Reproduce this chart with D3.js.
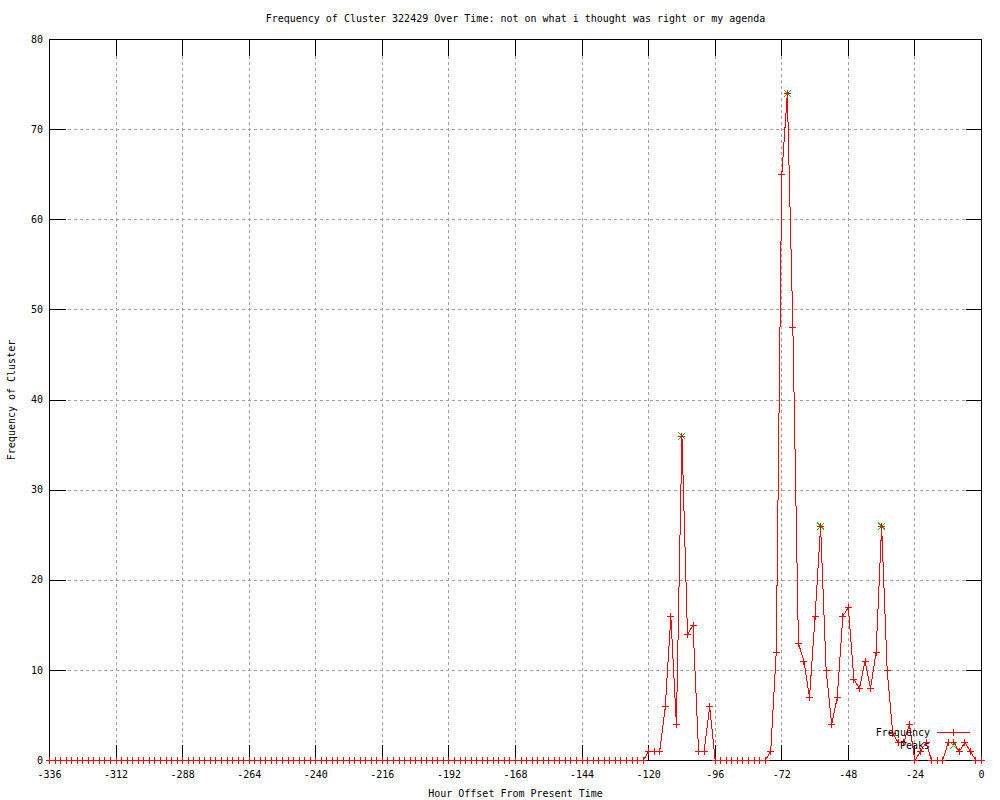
<!DOCTYPE html>
<html>
<head>
<meta charset="utf-8">
<script src="https://cdn.jsdelivr.net/npm/d3@7"></script>
<style>
  body { margin: 0; background: #ffffff; }
  text { font-family: "DejaVu Sans Mono", "Liberation Mono", monospace; font-size: 10px; fill: #000; }
</style>
</head>
<body>
<div id="chart"></div>
<script>
// Your data (one line = one day, a point every 2 hours)
var hours = [
  -336, -334, -332, -330, -328, -326, -324, -322, -320, -318, -316, -314,
  -312, -310, -308, -306, -304, -302, -300, -298, -296, -294, -292, -290,
  -288, -286, -284, -282, -280, -278, -276, -274, -272, -270, -268, -266,
  -264, -262, -260, -258, -256, -254, -252, -250, -248, -246, -244, -242,
  -240, -238, -236, -234, -232, -230, -228, -226, -224, -222, -220, -218,
  -216, -214, -212, -210, -208, -206, -204, -202, -200, -198, -196, -194,
  -192, -190, -188, -186, -184, -182, -180, -178, -176, -174, -172, -170,
  -168, -166, -164, -162, -160, -158, -156, -154, -152, -150, -148, -146,
  -144, -142, -140, -138, -136, -134, -132, -130, -128, -126, -124, -122,
  -120, -118, -116, -114, -112, -110, -108, -106, -104, -102, -100, -98,
  -96, -94, -92, -90, -88, -86, -84, -82, -80, -78, -76, -74,
  -72, -70, -68, -66, -64, -62, -60, -58, -56, -54, -52, -50,
  -48, -46, -44, -42, -40, -38, -36, -34, -32, -30, -28, -26,
  -24, -22, -20, -18, -16, -14, -12, -10, -8, -6, -4, -2,
  0
];
var frequency = [
  0, 0, 0, 0, 0, 0, 0, 0, 0, 0, 0, 0,
  0, 0, 0, 0, 0, 0, 0, 0, 0, 0, 0, 0,
  0, 0, 0, 0, 0, 0, 0, 0, 0, 0, 0, 0,
  0, 0, 0, 0, 0, 0, 0, 0, 0, 0, 0, 0,
  0, 0, 0, 0, 0, 0, 0, 0, 0, 0, 0, 0,
  0, 0, 0, 0, 0, 0, 0, 0, 0, 0, 0, 0,
  0, 0, 0, 0, 0, 0, 0, 0, 0, 0, 0, 0,
  0, 0, 0, 0, 0, 0, 0, 0, 0, 0, 0, 0,
  0, 0, 0, 0, 0, 0, 0, 0, 0, 0, 0, 0,
  1, 1, 1, 6, 16, 4, 36, 14, 15, 1, 1, 6,
  0, 0, 0, 0, 0, 0, 0, 0, 0, 0, 1, 12,
  65, 74, 48, 13, 11, 7, 16, 26, 10, 4, 7, 16,
  17, 9, 8, 11, 8, 12, 26, 10, 3, 2, 2, 4,
  0, 1, 2, 0, 0, 0, 2, 2, 1, 2, 1, 0,
  0
];
var peakHours = [-108, -70, -58, -36];
var peakValues = [36, 74, 26, 26];

var xTicks = [-336, -312, -288, -264, -240, -216, -192, -168, -144, -120, -96, -72, -48, -24, 0];
var yTicks = [0, 10, 20, 30, 40, 50, 60, 70, 80];

// Define the dimensions of the chart
var width = 1000;
var height = 800;
var plotLeft = 49.5, plotRight = 981.5, plotTop = 39.5, plotBottom = 760.5;
var tickLen = 16;

var svg = d3.select("#chart").append("svg")
    .attr("width", width)
    .attr("height", height)
    .style("background", "#ffffff");

var x = d3.scaleLinear().domain([-336, 0]).range([plotLeft, plotRight]);
var y = d3.scaleLinear().domain([0, 80]).range([plotBottom, plotTop]);

// dotted grid
svg.append("g")
    .attr("transform", "translate(0," + plotBottom + ")")
    .call(d3.axisBottom(x).tickValues(xTicks.slice(1, -1)).tickSize(-(plotBottom - plotTop)).tickFormat("").offset(0))
    .call(function(g) { g.select(".domain").remove(); })
    .selectAll("line")
    .attr("stroke", "#a0a0a0")
    .attr("stroke-dasharray", "3,3")
    .attr("shape-rendering", "crispEdges");

svg.append("g")
    .attr("transform", "translate(" + plotLeft + ",0)")
    .call(d3.axisLeft(y).tickValues(yTicks.slice(1, -1)).tickSize(-(plotRight - plotLeft)).tickFormat("").offset(0))
    .call(function(g) { g.select(".domain").remove(); })
    .selectAll("line")
    .attr("stroke", "#a0a0a0")
    .attr("stroke-dasharray", "3,3")
    .attr("shape-rendering", "crispEdges");

// ticks pointing inward on all four sides
var bottomAxis = svg.append("g")
    .attr("transform", "translate(0," + plotBottom + ")")
    .call(d3.axisBottom(x).tickValues(xTicks).tickSizeInner(-tickLen).tickSizeOuter(0).tickFormat(function(d) { return String(d); }).offset(0));
bottomAxis.selectAll("text").attr("y", 17.5).attr("dy", null);

var topAxis = svg.append("g")
    .attr("transform", "translate(0," + plotTop + ")")
    .call(d3.axisTop(x).tickValues(xTicks).tickSizeInner(-tickLen).tickSizeOuter(0).tickFormat("").offset(0));

var leftAxis = svg.append("g")
    .attr("transform", "translate(" + plotLeft + ",0)")
    .call(d3.axisLeft(y).tickValues(yTicks).tickSizeInner(-tickLen).tickSizeOuter(0).tickPadding(6.5).tickFormat(function(d) { return String(d); }).offset(0));

var rightAxis = svg.append("g")
    .attr("transform", "translate(" + plotRight + ",0)")
    .call(d3.axisRight(y).tickValues(yTicks).tickSizeInner(-tickLen).tickSizeOuter(0).tickFormat("").offset(0));

[bottomAxis, topAxis, leftAxis, rightAxis].forEach(function(g) {
    g.select(".domain").remove();
    g.attr("font-family", null).attr("font-size", null);
    g.selectAll("line").attr("stroke", "#000").attr("shape-rendering", "crispEdges");
    g.selectAll("text").attr("fill", "#000");
});

// plot frame
svg.append("rect")
    .attr("x", plotLeft).attr("y", plotTop)
    .attr("width", plotRight - plotLeft).attr("height", plotBottom - plotTop)
    .attr("fill", "none")
    .attr("stroke", "#000")
    .attr("shape-rendering", "crispEdges");

var plus = "M-3.5,0H3.5M0,-3.5V3.5";
var cross = "M-3.5,-3.5L3.5,3.5M-3.5,3.5L3.5,-3.5";

// Peaks (green x, under the red points)
svg.append("g").selectAll("path")
    .data(peakValues)
    .enter().append("path")
    .attr("transform", function(d, i) { return "translate(" + x(peakHours[i]) + "," + y(d) + ")"; })
    .attr("d", cross)
    .attr("stroke", "#00c000")
    .attr("shape-rendering", "crispEdges");

// Frequency line
var line = d3.line()
    .x(function(d, i) { return x(hours[i]); })
    .y(function(d) { return y(d); });

svg.append("path")
    .datum(frequency)
    .attr("d", line)
    .attr("fill", "none")
    .attr("stroke", "#ff0000")
    .attr("stroke-width", 1)
    .attr("shape-rendering", "crispEdges");

svg.append("g").selectAll("path")
    .data(frequency)
    .enter().append("path")
    .attr("transform", function(d, i) { return "translate(" + x(hours[i]) + "," + y(d) + ")"; })
    .attr("d", plus)
    .attr("stroke", "#ff0000")
    .attr("shape-rendering", "crispEdges");

// legend
var key = svg.append("g");
key.append("text").attr("x", 930).attr("y", 735.5).attr("text-anchor", "end").text("Frequency");
key.append("line").attr("x1", 937).attr("x2", 970).attr("y1", 732.5).attr("y2", 732.5)
    .attr("stroke", "#ff0000").attr("shape-rendering", "crispEdges");
key.append("path").attr("transform", "translate(953.5,732.5)").attr("d", plus)
    .attr("stroke", "#ff0000").attr("shape-rendering", "crispEdges");
key.append("text").attr("x", 930).attr("y", 748.5).attr("text-anchor", "end").text("Peaks");
key.append("path").attr("transform", "translate(953.5,745.5)").attr("d", cross)
    .attr("stroke", "#00c000").attr("shape-rendering", "crispEdges");

// titles
svg.append("text")
    .attr("x", (plotLeft + plotRight) / 2).attr("y", 22)
    .attr("text-anchor", "middle")
    .text("Frequency of Cluster 322429 Over Time: not on what i thought was right or my agenda");

svg.append("text")
    .attr("x", (plotLeft + plotRight) / 2).attr("y", 797)
    .attr("text-anchor", "middle")
    .text("Hour Offset From Present Time");

svg.append("text")
    .attr("transform", "translate(15," + (plotTop + plotBottom) / 2 + ") rotate(-90)")
    .attr("text-anchor", "middle")
    .text("Frequency of Cluster");
</script>
</body>
</html>
